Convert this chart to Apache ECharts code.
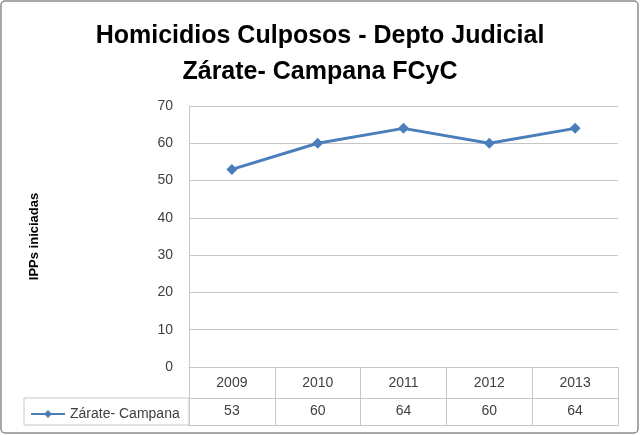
<!DOCTYPE html>
<html>
<head>
<meta charset="utf-8">
<script src="https://cdn.jsdelivr.net/npm/echarts@6/dist/echarts.min.js"></script>
<style>
html,body{margin:0;padding:0;background:#fff;}
#c{width:640px;height:435px;}
</style>
</head>
<body>
<div id="c"></div>
<script>
const titleLines = ['Homicidios Culposos - Depto Judicial', 'Zárate- Campana FCyC'];
const categories = ['2009', '2010', '2011', '2012', '2013'];
const seriesName = 'Zárate- Campana';
const values = [53, 60, 64, 60, 64];
const yAxisName = 'IPPs iniciadas';
const yTicks = [0, 10, 20, 30, 40, 50, 60, 70];

const FONT = "'Liberation Sans', sans-serif";
const gridColor = '#c6c6c6';
const lineColor = '#4a7ebb';
const textColor = '#404040';

const chart = echarts.init(document.getElementById('c'));
chart.setOption({
  animation: false,
  backgroundColor: '#fff',
  textStyle: { fontFamily: FONT },
  title: {
    text: titleLines.join('\n'),
    left: 'center',
    top: 13,
    textStyle: { fontFamily: FONT, fontSize: 25, fontWeight: 'bold', color: '#000', lineHeight: 36 }
  },
  legend: {
    left: 25,
    top: 402,
    itemWidth: 34,
    itemHeight: 10,
    itemGap: 4,
    textStyle: { fontFamily: FONT, fontSize: 14, color: textColor },
    data: [seriesName]
  },
  grid: { left: 189, right: 22, top: 106, bottom: 68, containLabel: false },
  xAxis: [
    {
      type: 'category', data: categories, boundaryGap: true, position: 'bottom',
      axisLine: { show: true, lineStyle: { color: gridColor, width: 1 } },
      axisTick: { show: true, interval: 0, length: 58, lineStyle: { color: gridColor } },
      axisLabel: { margin: 9, fontSize: 14, color: textColor, fontFamily: FONT }
    },
    {
      type: 'category', data: categories, boundaryGap: true, position: 'bottom', offset: 31,
      axisLine: { show: true, lineStyle: { color: gridColor, width: 1 } },
      axisTick: { show: false },
      axisLabel: { margin: 6, fontSize: 14, color: textColor, fontFamily: FONT,
        formatter: (v, i) => String(values[i]) }
    },
    {
      type: 'category', data: categories, boundaryGap: true, position: 'bottom', offset: 58,
      axisLine: { show: true, lineStyle: { color: gridColor, width: 1 } },
      axisTick: { show: false },
      axisLabel: { show: false }
    }
  ],
  yAxis: {
    type: 'value', min: yTicks[0], max: yTicks[yTicks.length - 1], interval: 10,
    name: yAxisName, nameLocation: 'middle', nameGap: 148, nameRotate: 90,
    nameTextStyle: { fontFamily: FONT, fontSize: 13, fontWeight: 'bold', color: '#000' },
    axisLine: { show: true, lineStyle: { color: gridColor } },
    axisTick: { show: false },
    axisLabel: { margin: 16, fontSize: 14, color: textColor, fontFamily: FONT },
    splitLine: { show: true, lineStyle: { color: gridColor, width: 1 } }
  },
  graphic: [
    { type: 'rect', shape: { x: 1, y: 1, width: 637, height: 432, r: 4 },
      style: { fill: 'none', stroke: '#8c8c8c', lineWidth: 1.5 }, silent: true },
    { type: 'rect', shape: { x: 24, y: 398, width: 165, height: 27 },
      style: { fill: 'none', stroke: gridColor, lineWidth: 1 }, silent: true }
  ],
  series: [{
    name: seriesName,
    type: 'line',
    data: values,
    symbol: 'diamond',
    symbolSize: 11,
    lineStyle: { color: lineColor, width: 3 },
    itemStyle: { color: lineColor },
    label: { show: false }
  }]
});
</script>
</body>
</html>
